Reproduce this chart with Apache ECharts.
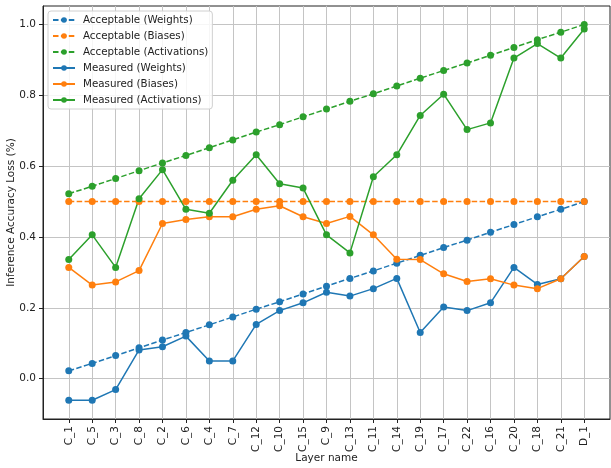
<!DOCTYPE html>
<html>
<head>
<meta charset="utf-8">
<script src="https://cdn.jsdelivr.net/npm/echarts@6/dist/echarts.min.js"></script>
<style>html,body{margin:0;padding:0;background:#fff;}#chart{width:611px;height:468px;}</style>
</head>
<body>
<div id="chart"></div>
<script>
const categories = ['C_1','C_5','C_3','C_8','C_2','C_6','C_4','C_7','C_12','C_10','C_15','C_9','C_13','C_11','C_14','C_19','C_17','C_22','C_16','C_20','C_18','C_21','D_1'];
const acceptableWeights = [0.022,0.043,0.065,0.087,0.109,0.130,0.152,0.174,0.196,0.217,0.239,0.261,0.283,0.304,0.326,0.348,0.370,0.391,0.413,0.435,0.457,0.478,0.500];
const acceptableBiases = [0.5,0.5,0.5,0.5,0.5,0.5,0.5,0.5,0.5,0.5,0.5,0.5,0.5,0.5,0.5,0.5,0.5,0.5,0.5,0.5,0.5,0.5,0.5];
const acceptableActivations = [0.522,0.543,0.565,0.587,0.609,0.630,0.652,0.674,0.696,0.717,0.739,0.761,0.783,0.804,0.826,0.848,0.870,0.891,0.913,0.935,0.957,0.978,1.000];
const measuredWeights = [-0.061,-0.061,-0.031,0.081,0.090,0.120,0.050,0.050,0.153,0.192,0.214,0.244,0.233,0.254,0.283,0.130,0.202,0.192,0.214,0.314,0.266,0.282,0.345];
const measuredBiases = [0.314,0.264,0.273,0.305,0.438,0.449,0.457,0.457,0.478,0.488,0.457,0.438,0.458,0.406,0.337,0.336,0.296,0.274,0.282,0.264,0.254,0.282,0.345];
const measuredActivations = [0.336,0.406,0.314,0.508,0.590,0.478,0.467,0.560,0.632,0.550,0.538,0.406,0.355,0.570,0.632,0.743,0.803,0.703,0.722,0.905,0.946,0.905,0.987];
const yTicks = [0, 0.2, 0.4, 0.6, 0.8, 1.0];

const C = {w:'#1f77b4', b:'#ff7f0e', a:'#2ca02c'};
const FONT = 'DejaVu Sans';
const xIdx = categories.map((c,i)=>i);

function mk(name, vals, color, dashed){
  return {
    name: name, type: 'line',
    data: vals.map((v,i)=>[i,v]),
    symbol: 'circle', symbolSize: 7,
    itemStyle: {color: color},
    lineStyle: {color: color, width: 1.5, type: dashed ? [5.5, 2.4] : 'solid'},
    emphasis: {disabled: true},
    animation: false
  };
}

const chart = echarts.init(document.getElementById('chart'), null, {renderer:'canvas'});
chart.setOption({
  backgroundColor: '#fff',
  animation: false,
  textStyle: {fontFamily: FONT},
  grid: {left: 43, right: 1, top: 6, bottom: 49, containLabel: false, outerBoundsMode: 'none',
    show: true, borderColor: '#222', borderWidth: 1, backgroundColor: '#fff'},
  legend: {
    orient: 'vertical', left: 48, top: 11,
    itemWidth: 22, itemHeight: 7, itemGap: 4,
    padding: [3, 4, 3, 4],
    backgroundColor: 'rgba(255,255,255,0.85)', borderColor: '#d0d0d0', borderWidth: 1, borderRadius: 3,
    textStyle: {fontFamily: FONT, fontSize: 10.3, color: '#222', lineHeight: 12, padding: [0,0,0,3]},
    data: ['Acceptable (Weights)','Acceptable (Biases)','Acceptable (Activations)','Measured (Weights)','Measured (Biases)','Measured (Activations)']
  },
  xAxis: {
    type: 'value', min: -1.1, max: 23.1,
    name: 'Layer name', nameLocation: 'middle', nameGap: 34, nameMoveOverlap: false,
    nameTextStyle: {fontFamily: FONT, fontSize: 10.5, color: '#222'},
    axisLine: {show: true, onZero: false, lineStyle: {color: '#222', width: 1}},
    axisTick: {show: true, length: 4, customValues: xIdx, lineStyle: {color: '#222'}},
    axisLabel: {customValues: xIdx, rotate: 90, margin: 7, fontFamily: FONT, fontSize: 10.5, color: '#222',
      formatter: v => categories[Math.round(v)] || ''},
    splitLine: {show: true, lineStyle: {color: '#c4c4c4', width: 1}}
  },
  yAxis: {
    type: 'value', min: -0.114, max: 1.052,
    name: 'Inference Accuracy Loss (%)', nameLocation: 'middle', nameGap: 26, nameMoveOverlap: false,
    nameTextStyle: {fontFamily: FONT, fontSize: 10.5, color: '#222'},
    axisLine: {show: true, onZero: false, lineStyle: {color: '#222', width: 1}},
    axisTick: {show: true, length: 4, customValues: yTicks, lineStyle: {color: '#222'}},
    axisLabel: {customValues: yTicks, margin: 7, fontFamily: FONT, fontSize: 10.5, color: '#222',
      formatter: v => v.toFixed(1)},
    splitLine: {show: true, lineStyle: {color: '#c4c4c4', width: 1}}
  },
  series: [
    mk('Acceptable (Weights)', acceptableWeights, C.w, true),
    mk('Acceptable (Biases)', acceptableBiases, C.b, true),
    mk('Acceptable (Activations)', acceptableActivations, C.a, true),
    mk('Measured (Weights)', measuredWeights, C.w, false),
    mk('Measured (Biases)', measuredBiases, C.b, false),
    mk('Measured (Activations)', measuredActivations, C.a, false)
  ]
});
</script>
</body>
</html>
